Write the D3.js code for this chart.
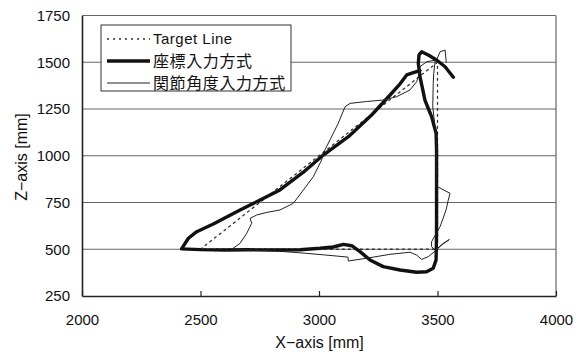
<!DOCTYPE html>
<html>
<head>
<meta charset="utf-8">
<script src="https://cdn.jsdelivr.net/npm/d3@7"></script>
<style>
  html, body { margin: 0; padding: 0; background: #fff; }
  svg { display: block; }
  text { font-family: "Liberation Sans", Arial, "Noto Sans CJK JP", sans-serif; fill: #111; }
  .jp { font-family: "Noto Sans CJK JP", sans-serif; }
</style>
</head>
<body>
<svg id="chart" width="581" height="352"></svg>
<script>
// Axis ranges and tick values
const xDomain = [2000, 4000];
const yDomain = [250, 1750];
const xTicks = [2000, 2500, 3000, 3500, 4000];
const yTicks = [250, 500, 750, 1000, 1250, 1500, 1750];

// Series labels
const seriesNames = ["Target Line", "座標入力方式", "関節角度入力方式"];

// Target trajectory (triangle), [X mm, Z mm]
const targetLine = [
  [2500, 500], [3500, 1500], [3500, 500], [2500, 500]
];

// Trajectory, coordinate input mode
const coordInput = [
  [3567, 1420], [3532, 1476], [3496, 1512], [3461, 1539], [3433, 1556],
  [3422, 1540], [3419, 1494], [3426, 1423], [3440, 1340], [3447, 1298],
  [3462, 1250], [3475, 1209], [3494, 1120], [3496, 1031], [3496, 900],
  [3496, 763], [3496, 585], [3494, 443], [3482, 398], [3454, 380],
  [3412, 377], [3342, 389], [3271, 407], [3215, 443], [3173, 487],
  [3138, 519], [3103, 526], [3060, 512], [3004, 505], [2920, 497],
  [2800, 496], [2700, 497], [2600, 496], [2500, 498], [2420, 502],
  [2449, 559], [2484, 594], [2554, 635], [2667, 710], [2737, 754],
  [2835, 817], [2934, 912], [3018, 1004], [3124, 1102], [3222, 1218],
  [3300, 1325], [3342, 1385], [3370, 1432], [3398, 1444], [3426, 1455]
];

// Trajectory, joint angle input mode
const jointInput = [
  [3490, 1505], [3484, 1440], [3482, 1387], [3480, 1262], [3490, 1150],
  [3497, 1084], [3496, 1000], [3496, 850], [3500, 834], [3553, 799],
  [3545, 760], [3536, 710], [3511, 621], [3490, 575], [3475, 540],
  [3475, 514], [3489, 494], [3520, 525], [3550, 552], [3520, 528],
  [3496, 496], [3461, 460], [3433, 446], [3412, 469], [3384, 484],
  [3300, 473], [3201, 452], [3124, 437], [3122, 458], [3020, 470],
  [2920, 481], [2800, 492], [2700, 497], [2632, 500], [2667, 532],
  [2695, 585], [2716, 639], [2709, 665], [2737, 683], [2780, 697],
  [2835, 710], [2892, 746], [2934, 817], [2976, 888], [3011, 977],
  [3018, 1013], [3046, 1084], [3080, 1170], [3110, 1262], [3131, 1280],
  [3200, 1290], [3272, 1298], [3328, 1316], [3384, 1352], [3412, 1396],
  [3419, 1423], [3426, 1476], [3454, 1503], [3496, 1512], [3511, 1556],
  [3532, 1565], [3537, 1500]
];

const svg = d3.select("#chart");
const plot = { left: 82, right: 556, top: 15.5, bottom: 296 };

const x = d3.scaleLinear().domain(xDomain).range([plot.left, plot.right]);
const y = d3.scaleLinear().domain(yDomain).range([plot.bottom, plot.top]);
const fmt = d3.format("d");

// Horizontal gridlines
svg.append("g")
  .selectAll("line")
  .data(yTicks.filter(v => v > yDomain[0]))
  .join("line")
  .attr("x1", plot.left).attr("x2", plot.right)
  .attr("y1", d => y(d)).attr("y2", d => y(d))
  .attr("stroke", "#666").attr("stroke-width", 1.2);

// Right border
svg.append("line")
  .attr("x1", plot.right).attr("x2", plot.right)
  .attr("y1", plot.top).attr("y2", plot.bottom)
  .attr("stroke", "#666").attr("stroke-width", 1.2);

// X axis with inward ticks
const xAxis = svg.append("g")
  .attr("transform", `translate(0,${plot.bottom})`)
  .call(d3.axisBottom(x).tickValues(xTicks).tickFormat(fmt)
    .tickSizeInner(-5).tickSizeOuter(0).tickPadding(18));
xAxis.select(".domain").attr("stroke", "#222").attr("stroke-width", 1.6);
xAxis.selectAll(".tick line").attr("stroke", "#222").attr("stroke-width", 1.2);
xAxis.selectAll(".tick text").attr("font-size", 15).attr("fill", "#111");

// Y axis
const yAxis = svg.append("g")
  .attr("transform", `translate(${plot.left},0)`)
  .call(d3.axisLeft(y).tickValues(yTicks).tickFormat(fmt).tickSize(0).tickPadding(12));
yAxis.select(".domain").attr("stroke", "#222").attr("stroke-width", 1.6);
yAxis.selectAll(".tick text").attr("font-size", 15).attr("fill", "#111");

// Axis titles
svg.append("text")
  .attr("x", 319.5).attr("y", 348)
  .attr("text-anchor", "middle").attr("font-size", 16)
  .text("X−axis [mm]");
svg.append("text")
  .attr("transform", "translate(27,157) rotate(-90)")
  .attr("text-anchor", "middle").attr("font-size", 16)
  .text("Z−axis [mm]");

const line = d3.line().x(d => x(d[0])).y(d => y(d[1])).curve(d3.curveLinear);

const styles = [
  { data: targetLine, width: 1.3, dash: "2,4", color: "#333" },
  { data: coordInput, width: 3.4, dash: null, color: "#111" },
  { data: jointInput, width: 1, dash: null, color: "#222" }
];

// Series paths
svg.append("g")
  .selectAll("path")
  .data(styles)
  .join("path")
  .attr("d", d => line(d.data))
  .attr("fill", "none")
  .attr("stroke", d => d.color)
  .attr("stroke-width", d => d.width)
  .attr("stroke-dasharray", d => d.dash)
  .attr("stroke-linejoin", "round")
  .attr("stroke-linecap", "round");

// Legend
const legend = svg.append("g");
legend.append("rect")
  .attr("x", 101).attr("y", 25).attr("width", 190).attr("height", 66)
  .attr("fill", "#fff").attr("stroke", "#333").attr("stroke-width", 1);
const rows = legend.selectAll("g.row")
  .data(styles.map((s, i) => ({ ...s, name: seriesNames[i] })))
  .join("g")
  .attr("class", "row")
  .attr("transform", (d, i) => `translate(0,${39 + i * 22})`);
rows.append("line")
  .attr("x1", 107).attr("x2", 150).attr("y1", 0).attr("y2", 0)
  .attr("stroke", d => d.color)
  .attr("stroke-width", d => d.width)
  .attr("stroke-dasharray", d => d.dash);
rows.append("text")
  .attr("x", 153).attr("y", 0).attr("dy", "0.35em")
  .attr("font-size", d => d.name === "Target Line" ? 15 : 16)
  .attr("class", d => d.name === "Target Line" ? null : "jp")
  .attr("letter-spacing", d => d.name === "Target Line" ? 0.5 : 0.6)
  .text(d => d.name);
</script>
</body>
</html>
